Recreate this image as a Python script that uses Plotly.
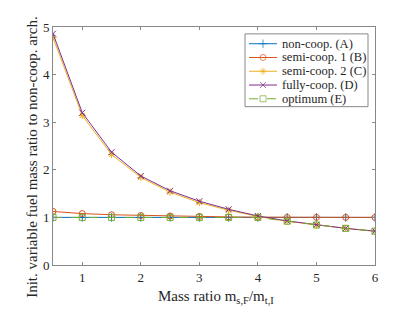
import plotly.graph_objects as go

mass_ratio = [0.5, 1, 1.5, 2, 2.5, 3, 3.5, 4, 4.5, 5, 5.5, 6]
non_coop = [1.0, 1.0, 1.0, 1.0, 1.0, 1.0, 1.0, 1.0, 1.0, 1.0, 1.0, 1.0]
semi_coop1 = [1.125, 1.08, 1.055, 1.04, 1.03, 1.02, 1.01, 1.005, 1.0, 1.0, 1.0, 1.0]
semi_coop2 = [4.78, 3.14, 2.32, 1.84, 1.53, 1.31, 1.15, 1.02, 0.92, 0.84, 0.77, 0.71]
fully_coop = [4.86, 3.2, 2.37, 1.87, 1.56, 1.34, 1.17, 1.03, 0.925, 0.845, 0.77, 0.71]
optimum = [1.0, 1.0, 1.0, 1.0, 1.0, 1.0, 1.0, 1.0, 0.92, 0.84, 0.77, 0.71]

names = ["non-coop. (A)", "semi-coop. 1 (B)", "semi-coop. 2 (C)", "fully-coop. (D)", "optimum (E)"]
values = [non_coop, semi_coop1, semi_coop2, fully_coop, optimum]
colors = ["#0072BD", "#D95319", "#EDB120", "#7E2F8E", "#77AC30"]
symbols = ["cross-thin-open", "circle-open", "asterisk-open", "x-thin-open", "square-open"]
dashes = ["solid", "solid", "solid", "solid", "dash"]

font = "Liberation Serif"
txt = "#262626"
axc = "#888888"

fig = go.Figure()
for name, ys, col, sym, dash in zip(names, values, colors, symbols, dashes):
    fig.add_trace(go.Scatter(
        x=mass_ratio, y=ys, name=name, mode="lines+markers", showlegend=False,
        line=dict(color=col, width=1, dash=dash),
        marker=dict(symbol=sym, size=6, color=col, line=dict(color=col, width=1)),
    ))

# manual legend on an overlay axis measured in page pixels
LX0, LX1, LY0, LY1 = 245, 368, 30, 104
row0, row_step = 40, 14
fig.add_shape(type="rect", xref="x2", yref="y2", x0=LX0, x1=LX1, y0=LY0, y1=LY1,
              fillcolor="white", line=dict(color=axc, width=1), layer="below")
for i, (name, col, sym, dash) in enumerate(zip(names, colors, symbols, dashes)):
    ry = row0 + row_step * i
    fig.add_trace(go.Scatter(
        x=[LX0 + 4, LX0 + 18, LX0 + 32], y=[ry, ry, ry], mode="lines+markers",
        xaxis="x2", yaxis="y2", showlegend=False, hoverinfo="skip",
        line=dict(color=col, width=1, dash=dash),
        marker=dict(symbol=sym, size=[0, 6, 0], color=col, line=dict(color=col, width=1)),
    ))
    fig.add_annotation(x=LX0 + 35, y=ry, xref="x2", yref="y2", text=name, showarrow=False,
                       xanchor="left", yanchor="middle",
                       font=dict(family=font, size=12.5, color=txt))

axis_common = dict(
    showgrid=False, zeroline=False, showline=True, linecolor=axc, linewidth=1,
    mirror="ticks", ticks="inside", ticklen=3, tickcolor=axc,
    tickfont=dict(family=font, size=13, color=txt),
)
fig.update_xaxes(range=[0.5, 6], tickvals=[1, 2, 3, 4, 5, 6], **axis_common)
fig.update_yaxes(range=[0, 5], tickvals=[0, 1, 2, 3, 4, 5], **axis_common)
fig.update_layout(
    xaxis2=dict(overlaying="x", anchor="y2", range=[53, 375], visible=False),
    yaxis2=dict(overlaying="y", anchor="x2", range=[265, 23], visible=False),
)

fig.add_annotation(xref="paper", yref="paper", x=(32 - 53) / 322, y=(265 - 155) / 242,
                   text="Init. variable fuel mass ratio to non-coop. arch.", textangle=-90,
                   showarrow=False, xanchor="center", yanchor="middle",
                   font=dict(family=font, size=15, color=txt))
fig.add_annotation(xref="paper", yref="paper", x=(216 - 53) / 322, y=(265 - 298) / 242,
                   text="Mass ratio m<sub>s,F</sub>/m<sub>t,I</sub>",
                   showarrow=False, xanchor="center", yanchor="middle",
                   font=dict(family=font, size=15, color=txt))

fig.update_layout(
    width=407, height=304,
    margin=dict(l=45, r=40, t=15, b=47),
    paper_bgcolor="white", plot_bgcolor="white",
    font=dict(family=font, color=txt),
    showlegend=False,
)
fig.write_html("out.html")
